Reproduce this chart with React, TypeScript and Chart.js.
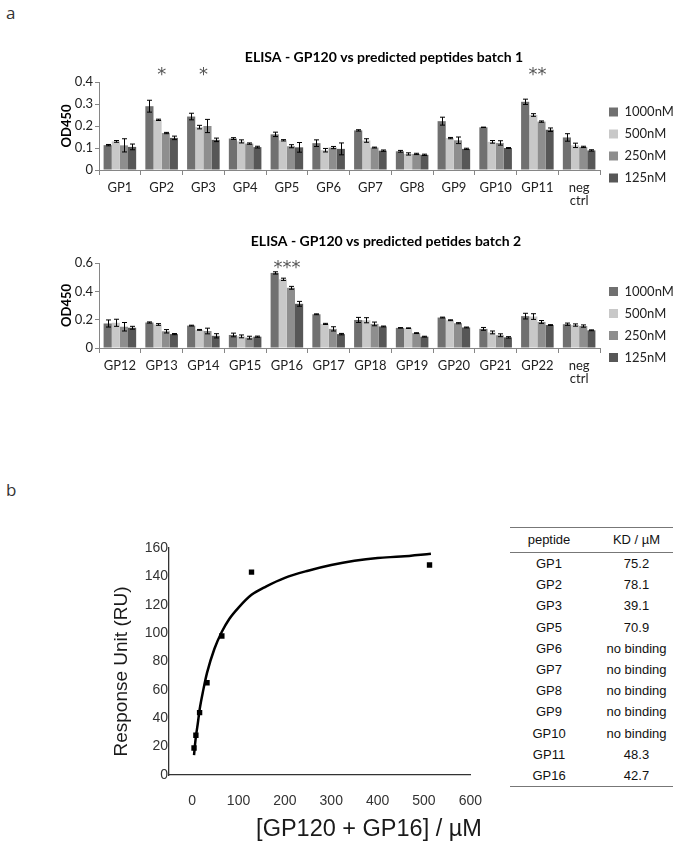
import React, { useEffect, useRef } from "react";
import { Chart, registerables } from "chart.js";

Chart.register(...registerables);

// ---------- Panel a: ELISA batch 1 ----------
const batch1Labels: (string | string[])[] = ["GP1", "GP2", "GP3", "GP4", "GP5", "GP6", "GP7", "GP8", "GP9", "GP10", "GP11", ["neg", "ctrl"]];
const b1c1000 = [0.113, 0.290, 0.243, 0.143, 0.162, 0.122, 0.180, 0.085, 0.222, 0.194, 0.310, 0.148];
const b1c500 = [0.130, 0.228, 0.195, 0.130, 0.135, 0.090, 0.134, 0.073, 0.145, 0.128, 0.250, 0.112];
const b1c250 = [0.112, 0.168, 0.200, 0.120, 0.108, 0.102, 0.102, 0.073, 0.135, 0.123, 0.220, 0.105];
const b1c125 = [0.105, 0.146, 0.137, 0.104, 0.103, 0.096, 0.088, 0.069, 0.096, 0.100, 0.183, 0.089];
const b1e1000 = [0.003, 0.027, 0.015, 0.004, 0.010, 0.015, 0.003, 0.004, 0.018, 0.001, 0.012, 0.017];
const b1e500 = [0.004, 0.003, 0.008, 0.007, 0.003, 0.008, 0.008, 0.005, 0.003, 0.006, 0.006, 0.010];
const b1e250 = [0.030, 0.003, 0.030, 0.003, 0.007, 0.005, 0.002, 0.003, 0.015, 0.010, 0.003, 0.003];
const b1e125 = [0.013, 0.008, 0.008, 0.004, 0.022, 0.027, 0.003, 0.003, 0.003, 0.002, 0.008, 0.003];
const b1Stars = ["", "*", "*", "", "", "", "", "", "", "", "**", ""];

// ---------- Panel a: ELISA batch 2 ----------
const batch2Labels: (string | string[])[] = ["GP12", "GP13", "GP14", "GP15", "GP16", "GP17", "GP18", "GP19", "GP20", "GP21", "GP22", ["neg", "ctrl"]];
const b2c1000 = [0.173, 0.180, 0.158, 0.092, 0.530, 0.238, 0.198, 0.142, 0.215, 0.135, 0.225, 0.168];
const b2c500 = [0.178, 0.166, 0.128, 0.082, 0.485, 0.170, 0.196, 0.140, 0.196, 0.110, 0.222, 0.162];
const b2c250 = [0.150, 0.118, 0.120, 0.073, 0.425, 0.135, 0.170, 0.105, 0.175, 0.090, 0.184, 0.155];
const b2c125 = [0.143, 0.098, 0.086, 0.080, 0.312, 0.098, 0.152, 0.080, 0.145, 0.075, 0.162, 0.125];
const b2e1000 = [0.025, 0.004, 0.003, 0.013, 0.008, 0.003, 0.018, 0.002, 0.003, 0.010, 0.020, 0.008];
const b2e500 = [0.025, 0.006, 0.003, 0.010, 0.008, 0.004, 0.018, 0.002, 0.003, 0.010, 0.020, 0.008];
const b2e250 = [0.030, 0.012, 0.020, 0.010, 0.010, 0.015, 0.013, 0.003, 0.004, 0.010, 0.010, 0.008];
const b2e125 = [0.010, 0.004, 0.015, 0.004, 0.017, 0.005, 0.003, 0.003, 0.003, 0.005, 0.003, 0.003];
const b2Stars = ["", "", "", "", "***", "", "", "", "", "", "", ""];

const concLabels = ["1000nM", "500nM", "250nM", "125nM"];
const concColors = ["#707070", "#c8c8c8", "#8e8e8e", "#575757"];

// ---------- Panel b: binding curve ----------
const measuredX = [4, 8, 16, 32, 64, 128, 512];
const measuredY = [19, 28, 44, 65, 98, 143, 148];
const fitX = [4, 6, 8, 12, 16, 24, 32, 48, 64, 80, 100, 128, 160, 200, 250, 300, 350, 400, 450, 515];
const fitY = [14, 21, 27, 36, 46, 60, 72, 89, 101, 110, 118, 127, 133, 139, 144, 148, 151, 153, 154, 156];

// ---------- Panel b: KD table ----------
const tablePeptides = ["GP1", "GP2", "GP3", "GP5", "GP6", "GP7", "GP8", "GP9", "GP10", "GP11", "GP16"];
const tableKd = ["75.2", "78.1", "39.1", "70.9", "no binding", "no binding", "no binding", "no binding", "no binding", "48.3", "42.7"];

const FONT = "Lato, 'Open Sans', sans-serif";
const ARIAL = "'Liberation Sans', Arial, sans-serif";

const errorBarsPlugin = {
  id: "errorBars",
  afterDatasetsDraw(chart: any, _args: any, opts: any) {
    const errs: number[][] = opts.errors || [];
    const yScale = chart.scales.y;
    const ctx = chart.ctx;
    ctx.save();
    ctx.strokeStyle = "#000";
    ctx.lineWidth = 1;
    chart.data.datasets.forEach((ds: any, i: number) => {
      const meta = chart.getDatasetMeta(i);
      const e = errs[i];
      if (!e) return;
      meta.data.forEach((bar: any, j: number) => {
        const v = ds.data[j];
        const top = yScale.getPixelForValue(v + e[j]);
        const bot = yScale.getPixelForValue(Math.max(0, v - e[j]));
        const x = Math.round(bar.x) + 0.5;
        ctx.beginPath();
        ctx.moveTo(x, top);
        ctx.lineTo(x, bot);
        ctx.moveTo(x - 2.5, top);
        ctx.lineTo(x + 2.5, top);
        ctx.moveTo(x - 2.5, bot);
        ctx.lineTo(x + 2.5, bot);
        ctx.stroke();
      });
    });
    ctx.restore();
  },
};

const starsPlugin = {
  id: "stars",
  afterDatasetsDraw(chart: any, _args: any, opts: any) {
    const marks: string[] = opts.marks || [];
    const xs = chart.scales.x;
    const y = chart.scales.y.getPixelForValue(opts.level);
    const ctx = chart.ctx;
    ctx.save();
    ctx.fillStyle = "#555";
    ctx.font = "18px 'DejaVu Sans', sans-serif";
    ctx.textAlign = "center";
    ctx.textBaseline = "alphabetic";
    marks.forEach((m, j) => {
      if (!m) return;
      ctx.fillText(m, xs.getPixelForTick(j), y + 10);
    });
    ctx.restore();
  },
};

const figTitlePlugin = {
  id: "figTitle",
  afterDraw(chart: any, _args: any, opts: any) {
    if (!opts.text) return;
    const ctx = chart.ctx;
    ctx.save();
    ctx.fillStyle = "#000";
    ctx.font = `bold ${opts.size}px ${FONT}`;
    ctx.textAlign = "center";
    ctx.textBaseline = "middle";
    ctx.fillText(opts.text, opts.x, opts.y);
    ctx.restore();
  },
};

const axisTextPlugin = {
  id: "axisText",
  afterDraw(chart: any, _args: any, opts: any) {
    const a = chart.chartArea;
    const ctx = chart.ctx;
    ctx.save();
    ctx.fillStyle = "#1a1a1a";
    ctx.textAlign = "center";
    ctx.textBaseline = "middle";
    ctx.font = `${opts.xSize}px ${ARIAL}`;
    ctx.fillText(opts.xText, a.left + opts.xDx, a.bottom + opts.xDy);
    ctx.translate(a.left + opts.yDx, (a.top + a.bottom) / 2 + opts.yDy);
    ctx.rotate(-Math.PI / 2);
    ctx.font = `${opts.ySize}px ${ARIAL}`;
    ctx.fillText(opts.yText, 0, 0);
    ctx.restore();
  },
};

function barConfig(p: any): any {
  return {
    type: "bar",
    data: {
      labels: p.labels,
      datasets: p.series.map((d: number[], i: number) => ({
        label: concLabels[i],
        data: d,
        backgroundColor: concColors[i],
        borderWidth: 0,
        categoryPercentage: 0.78,
        barPercentage: 1.0,
      })),
    },
    options: {
      responsive: false,
      animation: false,
      devicePixelRatio: 1,
      layout: { padding: { left: 56, right: 10, top: p.padT, bottom: p.padB } },
      plugins: {
        title: { display: false },
        figTitle: { text: p.title, x: p.titleX, y: p.titleY, size: 14 },
        legend: {
          display: true,
          position: "right",
          align: "center",
          maxWidth: 78,
          labels: { boxWidth: 9, boxHeight: 9, padding: 9, color: "#222", font: { family: FONT, size: 13 } },
        },
        tooltip: { enabled: false },
        errorBars: { errors: p.errors },
        stars: { marks: p.stars, level: p.starLevel },
      },
      scales: {
        x: {
          type: "category",
          grid: { display: true, offset: true, drawOnChartArea: false, drawTicks: true, tickLength: 5, color: "#868686" },
          border: { display: true, color: "#868686" },
          ticks: { color: "#222", font: { family: FONT, size: 13, lineHeight: 1.0 }, padding: 6, maxRotation: 0, autoSkip: false },
          afterFit: (s: any) => { s.height = 38; },
        },
        y: {
          min: 0,
          max: p.yMax,
          ticks: { stepSize: p.step, color: "#222", font: { family: FONT, size: 13 }, padding: 2 },
          grid: { drawOnChartArea: false, drawTicks: true, tickLength: 4, color: "#868686" },
          border: { display: true, color: "#868686" },
          title: { display: true, text: "OD450", color: "#000", font: { family: FONT, size: 13, weight: "bold" }, padding: { top: 3, bottom: 0 } },
          afterFit: (s: any) => { s.width = 43; },
        },
      },
    },
    plugins: [errorBarsPlugin, starsPlugin, figTitlePlugin],
  };
}

function curveConfig(): any {
  return {
    type: "scatter",
    data: {
      datasets: [
        {
          label: "fit",
          data: fitX.map((x, i) => ({ x, y: fitY[i] })),
          showLine: true,
          borderColor: "#000",
          borderWidth: 2.5,
          pointRadius: 0,
          cubicInterpolationMode: "monotone",
          fill: false,
          order: 2,
        },
        {
          label: "measured",
          data: measuredX.map((x, i) => ({ x, y: measuredY[i] })),
          backgroundColor: "#000",
          borderColor: "#000",
          borderWidth: 0,
          pointStyle: "rect",
          pointRadius: 3.8,
          order: 1,
        },
      ],
    },
    options: {
      responsive: false,
      animation: false,
      devicePixelRatio: 1,
      layout: { padding: { left: 89, right: 26, top: 48, bottom: 32 } },
      plugins: {
        legend: { display: false },
        title: { display: false },
        tooltip: { enabled: false },
        axisText: {
          xText: "[GP120 + GP16] / \u00b5M",
          xSize: 23.5,
          xDx: 200,
          xDy: 55,
          yText: "Response Unit (RU)",
          ySize: 19,
          yDx: -47,
          yDy: 10,
        },
      },
      scales: {
        x: {
          type: "linear",
          min: -50,
          max: 600,
          ticks: { stepSize: 100, includeBounds: false, color: "#333", font: { family: ARIAL, size: 14 }, padding: 18, maxRotation: 0 },
          grid: { display: true, drawOnChartArea: false, drawTicks: false },
          border: { display: true, color: "#333", width: 1.3 },
          afterFit: (s: any) => { s.height = 40; },
        },
        y: {
          type: "linear",
          min: 0,
          max: 160,
          ticks: { stepSize: 20, color: "#333", font: { family: ARIAL, size: 14 }, padding: 1 },
          grid: { display: true, drawOnChartArea: false, drawTicks: false },
          border: { display: true, color: "#333", width: 1.3 },
          afterFit: (s: any) => { s.width = 40; },
        },
      },
    },
    plugins: [axisTextPlugin],
  };
}

function ChartBox({ make, left, top, width, height }: any) {
  const ref = useRef<HTMLCanvasElement>(null);
  useEffect(() => {
    const chart = new Chart(ref.current as HTMLCanvasElement, make());
    return () => chart.destroy();
  }, []);
  return (
    <canvas
      ref={ref}
      width={width}
      height={height}
      style={{ position: "absolute", left, top, width, height }}
    />
  );
}

export default function App() {
  const cell: React.CSSProperties = { padding: 0, textAlign: "center", fontWeight: "normal", height: 21.2, lineHeight: "21.2px" };
  const kdCell: React.CSSProperties = { paddingLeft: 12 };
  const rule = "1px solid #777";
  return (
    <div style={{ position: "absolute", left: 0, top: 0, width: 688, height: 847, background: "#fff", overflow: "hidden" }}>
      <div style={{ position: "absolute", left: 6, top: 1, fontFamily: "'Open Sans', sans-serif", fontSize: 17, color: "#333" }}>a</div>
      <div style={{ position: "absolute", left: 6, top: 478, fontFamily: "'Open Sans', sans-serif", fontSize: 17, color: "#333" }}>b</div>
      <ChartBox
        left={0}
        top={40}
        width={688}
        height={180}
        make={() =>
          barConfig({
            labels: batch1Labels,
            series: [b1c1000, b1c500, b1c250, b1c125],
            errors: [b1e1000, b1e500, b1e250, b1e125],
            stars: b1Stars,
            starLevel: 0.455,
            title: "ELISA - GP120 vs predicted peptides batch 1",
            titleX: 384,
            titleY: 17,
            yMax: 0.4,
            step: 0.1,
            padT: 42,
            padB: 12,
          })
        }
      />
      <ChartBox
        left={0}
        top={225}
        width={688}
        height={173}
        make={() =>
          barConfig({
            labels: batch2Labels,
            series: [b2c1000, b2c500, b2c250, b2c125],
            errors: [b2e1000, b2e500, b2e250, b2e125],
            stars: b2Stars,
            starLevel: 0.6,
            title: "ELISA - GP120 vs predicted petides batch 2",
            titleX: 386,
            titleY: 16,
            yMax: 0.6,
            step: 0.2,
            padT: 38,
            padB: 12,
          })
        }
      />
      <ChartBox left={40} top={500} width={460} height={347} make={curveConfig} />
      <table
        style={{
          position: "absolute",
          left: 510,
          top: 527,
          width: 163,
          borderCollapse: "collapse",
          fontFamily: ARIAL,
          fontSize: 13,
          color: "#111",
        }}
      >
        <thead>
          <tr>
            <th style={{ ...cell, width: 78, height: 24, lineHeight: "24px", borderTop: rule, borderBottom: rule }}>peptide</th>
            <th style={{ ...cell, ...kdCell, width: 73, height: 24, lineHeight: "24px", borderTop: rule, borderBottom: rule }}>KD / {"\u00b5"}M</th>
          </tr>
        </thead>
        <tbody>
          {tablePeptides.map((p, i) => {
            const last = i === tablePeptides.length - 1;
            const st = { ...cell, borderBottom: last ? rule : "none" };
            return (
              <tr key={p}>
                <td style={st}>{p}</td>
                <td style={{ ...st, ...kdCell }}>{tableKd[i]}</td>
              </tr>
            );
          })}
        </tbody>
      </table>
    </div>
  );
}
